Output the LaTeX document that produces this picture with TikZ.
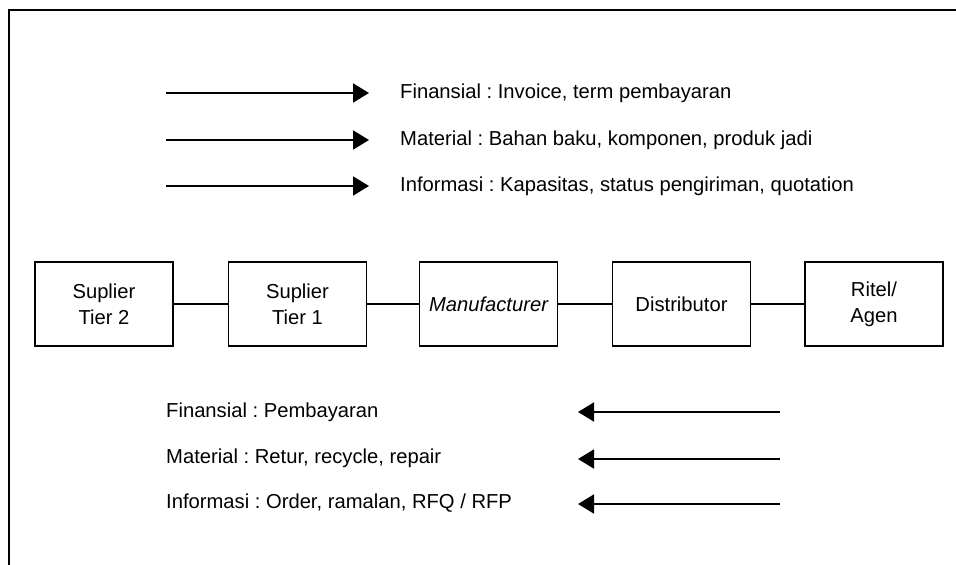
\documentclass[tikz,border=0pt]{standalone}
\usepackage{fontspec}
\setmainfont{Liberation Sans}
\usetikzlibrary{arrows.meta}
\frenchspacing
\begin{document}
\begin{tikzpicture}[x=1pt,y=-1pt,
  every node/.style={font=\fontsize{20.2}{26}\selectfont},
  entity/.style={draw,line width=1.5pt,minimum width=138pt,minimum height=84pt,align=center,inner sep=0pt},
  link/.style={line width=1.5pt},
  flow/.style={line width=1.8pt,-{Triangle[length=16pt,width=19pt]}},
  lbl/.style={anchor=west,inner sep=0pt}]
\useasboundingbox (0,0) rectangle (956,565);
\coordinate (fl) at (9,565);
\coordinate (fc) at (9,10);
\coordinate (fr) at (956,10);
\draw[line width=2pt] (fl) -- (fc) -- (fr);
% boxes
\node[entity] (s2) at (104,304) {Suplier\\Tier 2};
\node[entity] (s1) at (297.5,304) {Suplier\\Tier 1};
\node[entity] (m) at (488.5,304) {\itshape Manufacturer};
\node[entity] (d) at (681.5,304) {Distributor};
\node[entity] (r) at (874,304) {Ritel/\\Agen};
\draw[link] (s2) -- (s1);
\draw[link] (s1) -- (m);
\draw[link] (m) -- (d);
\draw[link] (d) -- (r);
% top legend
\coordinate (a1s) at (166,93);  \coordinate (a1e) at (369,93);
\coordinate (a2s) at (166,140); \coordinate (a2e) at (369,140);
\coordinate (a3s) at (166,186); \coordinate (a3e) at (369,186);
\draw[flow] (a1s) -- (a1e);
\draw[flow] (a2s) -- (a2e);
\draw[flow] (a3s) -- (a3e);
\node[lbl] (t1) at (400,93) {Finansial : Invoice, term pembayaran};
\node[lbl] (t2) at (400,140) {Material : Bahan baku, komponen, produk jadi};
\node[lbl] (t3) at (400,186) {Informasi : Kapasitas, status pengiriman, quotation};
% bottom legend
\node[lbl] (b1) at (166,412) {Finansial : Pembayaran};
\node[lbl] (b2) at (166,458) {Material : Retur, recycle, repair};
\node[lbl] (b3) at (166,503) {Informasi : Order, ramalan, RFQ / RFP};
\coordinate (c1s) at (780,412); \coordinate (c1e) at (578,412);
\coordinate (c2s) at (780,459); \coordinate (c2e) at (578,459);
\coordinate (c3s) at (780,504); \coordinate (c3e) at (578,504);
\draw[flow] (c1s) -- (c1e);
\draw[flow] (c2s) -- (c2e);
\draw[flow] (c3s) -- (c3e);
\end{tikzpicture}
\end{document}
